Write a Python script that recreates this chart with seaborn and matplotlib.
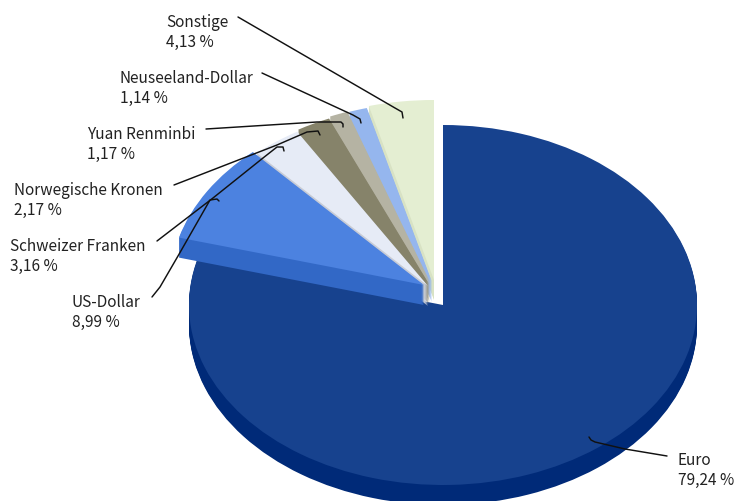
import matplotlib
matplotlib.use("Agg")
import matplotlib.pyplot as plt
from matplotlib.transforms import Affine2D
import seaborn as sns

categories = ["Euro", "US-Dollar", "Schweizer Franken", "Norwegische Kronen",
              "Yuan Renminbi", "Neuseeland-Dollar", "Sonstige"]
shares = [79.24, 8.99, 3.16, 2.17, 1.17, 1.14, 4.13]
share_labels = ["79,24 %", "8,99 %", "3,16 %", "2,17 %", "1,17 %", "1,14 %", "4,13 %"]

top_colors = ["#17428e", "#4c82e0", "#e6ebf6", "#86836a", "#b5b3a3", "#95b6ee", "#e4eed2"]
side_colors = ["#002a78", "#3268c6", "#c8ccd6", "#86836a", "#b5b3a3", "#95b6ee", "#d8e2c4"]

# layout in reference pixels
W, H = 735, 501
CX, CY, RX, RY, DEPTH = 443, 305, 254, 180, 20
slice_shift = [(0, 0), (-19, -20), (-15, -19), (-14, -21), (-13, -23), (-11, -23), (-9, -25)]
label_pos = [(678, 470), (72, 312), (10, 256), (14, 200), (87, 144), (120, 88), (166, 32)]
leaders = [
    [(667, 456), (625, 449), (595, 442), (591, 440), (589, 437)],
    [(152, 297), (160, 287), (178, 256), (210, 200), (217, 199), (219, 201)],
    [(157, 241), (213, 198), (263, 158), (277, 147), (283, 147), (284, 151)],
    [(174, 185), (277, 145), (307, 132), (318, 131), (320, 135)],
    [(206, 129), (317, 122), (341, 122), (343, 124), (343, 127)],
    [(262, 73), (353, 115), (360, 119), (361, 123)],
    [(238, 17), (395, 108), (402, 112), (403, 118)],
]

sns.set_theme(style="white")
plt.rcParams["font.family"] = ["Noto Sans CJK SC", "DejaVu Sans"]

fig = plt.figure(figsize=(W / 100, H / 100), dpi=100, facecolor="white")
ax = fig.add_axes([0, 0, 1, 1])


def draw_layer(colors, drop, base_z):
    wedges, _ = ax.pie(shares, colors=colors, startangle=90, counterclock=False,
                       wedgeprops={"linewidth": 0})
    for i, w in enumerate(wedges):
        dx, dy = slice_shift[i]
        w.set_center((dx / RX, -(dy + drop) / RY))
        # back-to-front: Sonstige first, Euro last
        order = (len(shares) - i) % len(shares)
        w.set_zorder(order * 100 + base_z)


for d in range(DEPTH, 0, -1):
    draw_layer(side_colors, d, DEPTH - d)
draw_layer(top_colors, 0, DEPTH)

ax.set_aspect("auto")
ax.set_xlim(-CX / RX, (W - CX) / RX)
ax.set_ylim(-(H - CY) / RY, CY / RY)
ax.set_axis_off()

px = Affine2D().scale(1 / W, -1 / H).translate(0, 1) + fig.transFigure

for pts in leaders:
    ax.plot([p[0] for p in pts], [p[1] for p in pts], color="#111111", lw=1.05,
            transform=px, zorder=2000, solid_capstyle="round", clip_on=False)

for name, lab, (x, y) in zip(categories, share_labels, label_pos):
    ax.text(x, y, f"{name}\n{lab}", transform=px, ha="left", va="center",
            fontsize=11.1, color="#222222", linespacing=1.23, zorder=2100)

fig.savefig("out.png", dpi=100)
